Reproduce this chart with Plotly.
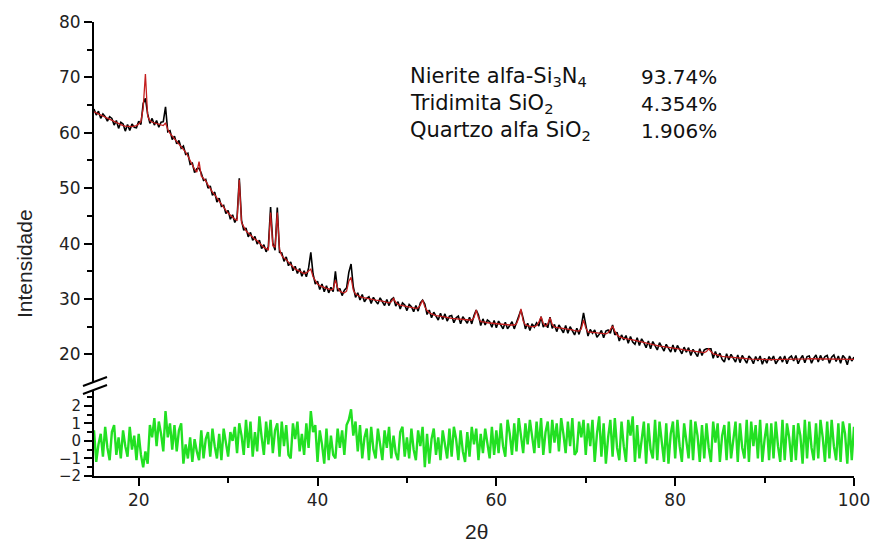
import numpy as np
import plotly.graph_objects as go

# ---------------- data ----------------
TWO_THETA_START = 15.0
TWO_THETA_STEP = 0.25

# observed intensity, 4 points per degree, rows = 15,16,...,99 then 100
OBS_ROWS = [
    [64.3, 63.2, 63.9, 62.6], [63.4, 62.9, 62.1, 62.9], [62.6, 61.4, 62.2, 60.8],
    [61.9, 61.6, 60.3, 61.5], [60.4, 61.6, 61.0, 60.9], [62.1, 61.5, 65.3, 66.2],
    [63.4, 61.7, 62.6, 61.4], [62.2, 61.0, 61.9, 62.0], [64.7, 60.2, 60.4, 58.8],
    [59.4, 58.0, 58.6, 57.2], [57.6, 56.1, 56.3, 54.3], [54.5, 52.8, 53.5, 53.6],
    [52.7, 51.4, 51.6, 50.0], [50.4, 48.7, 49.3, 47.5], [48.2, 46.7, 46.9, 45.4],
    [46.0, 44.4, 45.2, 43.8], [44.6, 51.8, 44.2, 42.4], [42.8, 41.2, 42.0, 40.6],
    [41.3, 39.9, 40.6, 39.1], [39.8, 38.5, 39.4, 46.6], [40.1, 38.8, 46.5, 38.4],
    [38.3, 36.8, 37.6, 36.0], [36.7, 35.1, 35.9, 34.6], [35.5, 34.1, 35.1, 34.0],
    [35.6, 38.4, 34.5, 32.7], [33.2, 31.7, 32.7, 31.3], [32.4, 31.1, 32.1, 31.3],
    [35.0, 31.4, 31.9, 30.6], [31.6, 32.0, 34.8, 36.3], [32.2, 30.3, 31.1, 29.8],
    [30.8, 29.5, 30.1, 30.4], [29.2, 30.3, 29.6, 29.1], [30.2, 29.4, 28.8, 29.9],
    [28.8, 29.9, 30.2, 28.7], [29.5, 28.2, 29.3, 28.9], [27.9, 29.0, 28.6, 27.7],
    [28.8, 27.8, 29.3, 29.8], [29.1, 27.2, 28.0, 26.6], [27.6, 26.9, 26.2, 27.4],
    [26.3, 27.3, 26.0, 26.9], [27.0, 25.7, 26.6, 26.9], [25.5, 26.8, 26.1, 25.6],
    [26.7, 25.5, 27.0, 28.0], [27.1, 25.2, 26.4, 25.3], [26.2, 25.9, 24.9, 26.1],
    [24.8, 26.0, 25.3, 24.6], [25.8, 24.6, 25.2, 25.9], [24.6, 25.8, 26.9, 28.0],
    [26.5, 24.6, 25.6, 24.3], [25.5, 24.9, 25.7, 25.1], [26.8, 24.9, 25.6, 24.8],
    [26.7, 24.7, 25.4, 24.1], [25.3, 24.6, 23.9, 25.2], [23.8, 25.0, 24.3, 23.5],
    [24.7, 23.6, 25.1, 27.5], [25.3, 23.3, 24.5, 23.8], [24.4, 23.1, 23.6, 24.3],
    [23.0, 24.2, 24.4, 23.8], [25.3, 23.5, 24.0, 22.4], [23.5, 22.6, 23.4, 22.0],
    [23.2, 22.2, 21.8, 23.0], [21.6, 22.8, 22.1, 21.2], [22.4, 21.0, 22.3, 21.5],
    [20.8, 22.1, 21.3, 20.6], [21.8, 21.0, 20.4, 21.7], [20.4, 21.6, 20.9, 20.1],
    [21.3, 20.4, 21.2, 19.8], [20.9, 20.3, 19.6, 21.0], [19.8, 20.8, 21.0, 21.0],
    [21.0, 19.3, 20.5, 19.4], [20.2, 19.1, 18.6, 20.1], [19.0, 20.0, 19.4, 18.6],
    [19.9, 18.5, 19.8, 19.0], [18.4, 19.7, 19.2, 18.3], [19.6, 18.8, 19.7, 18.2],
    [19.3, 18.4, 19.6, 18.9], [19.7, 18.3, 18.9, 19.6], [18.6, 19.7, 18.3, 19.4],
    [19.7, 18.8, 19.8, 18.3], [19.2, 19.8, 18.5, 19.6], [19.7, 18.4, 19.3, 19.9],
    [18.6, 19.8, 18.9, 19.6], [19.8, 18.4, 19.5, 19.9], [18.7, 19.7, 18.4, 19.8],
    [19.3, 18.1, 19.7, 18.8], [19.5],
]

# calculated (fitted) intensity
CALC_ROWS = [
    [63.8, 63.6, 63.4, 63.2], [63.0, 62.8, 62.6, 62.4], [62.2, 62.0, 61.8, 61.6],
    [61.4, 61.3, 61.2, 61.15], [61.1, 61.1, 61.2, 61.3], [61.6, 62.0, 64.5, 70.6],
    [63.0, 62.2, 61.9, 61.8], [61.6, 61.5, 61.4, 61.3], [61.8, 60.6, 59.9, 59.4],
    [58.9, 58.5, 58.0, 57.6], [57.1, 56.5, 55.8, 54.9], [54.0, 53.4, 52.9, 54.8],
    [52.2, 51.8, 51.3, 50.6], [49.9, 49.3, 48.8, 48.2], [47.7, 47.1, 46.6, 46.0],
    [45.5, 45.1, 44.7, 44.4], [44.2, 51.5, 43.8, 43.0], [42.3, 41.9, 41.5, 41.2],
    [40.8, 40.5, 40.1, 39.7], [39.3, 39.1, 38.9, 45.6], [39.6, 39.4, 45.6, 39.0],
    [37.8, 37.4, 37.1, 36.6], [36.2, 35.8, 35.4, 35.2], [35.0, 34.8, 34.6, 34.7],
    [35.0, 35.4, 34.0, 33.3], [32.7, 32.4, 32.2, 32.0], [31.9, 31.8, 31.6, 31.8],
    [33.4, 32.0, 31.4, 31.2], [31.1, 31.4, 33.2, 33.9], [31.6, 30.9, 30.6, 30.4],
    [30.3, 30.2, 30.1, 30.0], [29.9, 29.85, 29.8, 29.75], [29.7, 29.6, 29.5, 29.4],
    [29.3, 29.5, 30.1, 29.4], [29.0, 28.9, 28.8, 28.7], [28.6, 28.5, 28.45, 28.4],
    [28.3, 28.4, 28.9, 29.8], [28.6, 27.9, 27.5, 27.3], [27.1, 27.0, 26.95, 26.9],
    [26.8, 26.75, 26.7, 26.6], [26.5, 26.45, 26.4, 26.35], [26.3, 26.3, 26.25, 26.2],
    [26.2, 26.2, 26.6, 28.0], [26.6, 25.9, 25.9, 25.8], [25.7, 25.65, 25.6, 25.55],
    [25.5, 25.45, 25.4, 25.35], [25.3, 25.3, 25.3, 25.3], [25.3, 25.5, 26.5, 28.2],
    [26.0, 25.3, 25.1, 25.05], [25.0, 25.0, 25.2, 25.8], [26.8, 25.6, 25.1, 25.5],
    [26.6, 25.4, 24.9, 24.85], [24.8, 24.75, 24.7, 24.6], [24.5, 24.45, 24.4, 24.3],
    [24.2, 24.2, 24.6, 26.2], [24.8, 24.0, 24.0, 23.95], [23.9, 23.85, 23.8, 23.75],
    [23.7, 23.7, 23.9, 24.5], [25.1, 24.2, 23.5, 23.2], [23.0, 22.9, 22.85, 22.8],
    [22.7, 22.6, 22.5, 22.4], [22.3, 22.2, 22.1, 22.0], [21.9, 21.8, 21.75, 21.7],
    [21.6, 21.5, 21.45, 21.4], [21.3, 21.25, 21.2, 21.15], [21.1, 21.0, 20.95, 20.9],
    [20.8, 20.75, 20.7, 20.6], [20.5, 20.45, 20.4, 20.35], [20.3, 20.3, 20.5, 21.0],
    [20.5, 20.1, 20.0, 19.85], [19.7, 19.65, 19.6, 19.55], [19.5, 19.45, 19.4, 19.38],
    [19.35, 19.3, 19.25, 19.22], [19.2, 19.18, 19.15, 19.12], [19.1, 19.08, 19.07, 19.06],
    [19.05, 19.05, 19.05, 19.05], [19.05, 19.06, 19.07, 19.08], [19.1, 19.1, 19.1, 19.1],
    [19.1, 19.12, 19.13, 19.14], [19.15, 19.16, 19.17, 19.18], [19.2, 19.2, 19.2, 19.2],
    [19.2, 19.2, 19.2, 19.2], [19.2, 19.2, 19.2, 19.2], [19.2, 19.2, 19.2, 19.18],
    [19.15, 19.14, 19.13, 19.12], [19.1],
]

# residual (difference curve)
RESID_ROWS = [
    [0.6, -1.2, -0.2, 0.4], [-0.9, 0.8, -0.4, -1.1], [0.5, 0.9, -0.8, 0.2],
    [-1.0, 0.6, -0.3, -0.9], [0.8, -0.5, 0.3, -1.1], [0.4, -0.8, -1.5, -0.6],
    [-1.3, 0.9, 0.2, 1.3], [-0.3, 1.1, 0.4, -0.6], [1.7, 0.2, 1.0, -0.5],
    [0.9, -0.6, 0.6, 1.0], [-1.3, -0.2, -1.0, 0.2], [-1.2, 0.1, -0.6, -1.1],
    [0.6, -1.0, 0.1, 0.5], [-0.9, 0.7, -0.3, -1.0], [0.4, -1.1, 0.7, -0.2],
    [-0.9, 0.5, 0.0, 0.8], [-0.7, 1.0, 0.3, -0.8], [1.2, -0.4, 1.1, -0.9],
    [0.5, -0.6, 1.4, 0.2], [-0.8, 1.1, -0.2, 1.2], [-0.7, 0.6, 1.0, -0.9],
    [1.1, -0.3, 0.9, -0.8], [-1.0, 1.0, 0.1, 1.1], [-0.6, 0.4, -0.8, 1.0],
    [-0.4, 1.7, 0.5, 0.9], [-1.2, 0.6, -0.2, -1.3], [0.7, -1.1, 0.3, -0.8],
    [-1.0, 0.7, -0.4, 0.6], [-0.8, 0.9, 1.2, 1.8], [0.3, 1.1, -0.6, 0.9],
    [-1.0, 0.2, 0.7, -1.1], [0.8, -0.5, -1.0, 0.7], [-0.2, -1.1, 0.6, -0.4],
    [0.8, -1.0, 0.3, -0.7], [-1.1, 0.5, 0.8, -0.9], [0.2, -1.0, 0.7, -0.5],
    [-1.1, 0.6, -0.3, 0.8], [-1.5, 0.4, -1.3, 0.1], [0.7, -0.8, 0.2, -1.1],
    [0.6, -0.3, -1.0, 0.7], [-0.9, 0.8, 0.1, -1.1], [0.6, -0.6, -1.2, 0.5],
    [-0.9, 0.8, -0.2, 0.7], [-1.1, 0.4, -0.7, 0.7], [-0.3, -1.0, 0.8, -0.8],
    [0.6, -0.7, 1.0, -0.3], [-0.9, 1.2, 0.4, -0.8], [1.0, -0.6, 1.3, 0.1],
    [-0.7, 1.0, -0.2, 1.2], [0.3, -0.7, 1.1, -0.4], [1.3, -0.8, 0.5, 1.1],
    [-0.7, 1.2, -0.1, 1.0], [-0.6, 1.3, 0.4, -0.7], [1.1, -0.3, 1.3, -0.8],
    [-0.6, 1.1, 0.2, 1.2], [-0.8, 1.0, -0.3, 1.2], [-1.2, 0.4, 1.4, -0.9],
    [1.0, -1.3, 0.2, 1.2], [-0.9, 1.3, -0.4, -1.1], [1.1, -0.3, -1.2, 1.2],
    [0.3, 1.4, -1.2, 0.9], [-1.0, 0.2, 1.1, -1.3], [1.0, -0.5, -1.0, 1.2],
    [-1.1, 1.1, 0.1, -1.2], [1.0, -1.3, 0.4, 1.1], [-1.0, 1.2, -0.3, -1.2],
    [1.0, -0.2, -1.0, 1.2], [-1.1, 1.1, 0.3, -1.2], [0.9, -1.0, 1.0, -0.4],
    [-1.2, 1.1, -0.1, 1.0], [-1.2, 0.3, 0.9, -1.1], [1.1, -1.0, 0.2, 1.1],
    [-1.2, 1.0, -0.4, -1.0], [1.2, -1.2, 1.1, -0.3], [0.9, -1.0, 1.2, -1.2],
    [0.1, 1.0, -1.1, 1.0], [-1.0, 1.1, -0.3, -1.2], [1.2, -1.1, 1.0, 0.2],
    [-1.2, 0.9, -1.1, 1.0], [0.3, -1.3, 1.2, -1.0], [1.1, -0.4, -1.1, 1.0],
    [-1.0, 1.2, 0.2, -1.2], [1.1, -1.0, 1.2, -0.3], [-1.1, 1.0, -1.2, 1.1],
    [0.4, -1.3, 1.0, -1.1], [0.8],
]

PHASES = ["Nierite alfa-Si<sub>3</sub>N<sub>4</sub>",
          "Tridimita SiO<sub>2</sub>",
          "Quartzo alfa SiO<sub>2</sub>"]
PHASE_PCT = ["93.74%", "4.354%", "1.906%"]

X_TICKS = [20, 40, 60, 80, 100]
Y_TICKS = [20, 30, 40, 50, 60, 70, 80]
R_TICKS = [-2, -1, 0, 1, 2]

obs = [v for row in OBS_ROWS for v in row]
calc = [v for row in CALC_ROWS for v in row]
resid = [v for row in RESID_ROWS for v in row]
n = len(obs)
assert len(calc) == n and len(resid) == n, (len(obs), len(calc), len(resid))
two_theta = TWO_THETA_START + TWO_THETA_STEP * np.arange(n)

# ---------------- figure ----------------
FONT = "Liberation Sans, Arial, sans-serif"
WFONT = "DejaVu Sans, Liberation Sans, sans-serif"
W, H = 882, 544
ML, MR, MT, MB = 94, 21, 17, 68
ph = H - MT - MB

def py(pix):  # pixel row -> paper y
    return (H - MB - pix) / ph

def px(pix):  # pixel column -> paper x
    return (pix - ML) / (W - ML - MR)

fig = go.Figure()
fig.add_trace(go.Scatter(x=two_theta, y=obs, mode="lines",
                         line=dict(color="#000000", width=1.6), xaxis="x", yaxis="y",
                         showlegend=False))
fig.add_trace(go.Scatter(x=two_theta, y=calc, mode="lines",
                         line=dict(color="#c41e1e", width=1.3), xaxis="x", yaxis="y",
                         showlegend=False))
fig.add_trace(go.Scatter(x=two_theta, y=resid, mode="lines",
                         line=dict(color="#22e022", width=2.4), xaxis="x", yaxis="y2",
                         showlegend=False))

def axis_common(size):
    return dict(showline=True, linecolor="black", linewidth=2, ticks="outside",
                tickcolor="black", tickwidth=2, ticklen=8, showgrid=False,
                zeroline=False, tickfont=dict(family=WFONT, size=size, color="#222"))

def minor(vals):
    return dict(tickvals=vals, ticklen=5, tickwidth=2, tickcolor="black", ticks="outside")

upper_bottom = py(381)
lower_top = py(389)

fig.update_layout(
    width=W, height=H, margin=dict(l=ML, r=MR, t=MT, b=MB),
    plot_bgcolor="white", paper_bgcolor="white",
    xaxis=dict(domain=[0, 1], range=[15, 100], anchor="y2", tickvals=X_TICKS,
               minor=minor([30, 50, 70, 90]), **axis_common(17)),
    yaxis=dict(domain=[upper_bottom, 1], range=[15, 80], anchor="x", tickvals=Y_TICKS,
               minor=minor([25, 35, 45, 55, 65, 75]), **axis_common(17)),
    yaxis2=dict(domain=[0, lower_top], range=[-2, 2.9], anchor="x", tickvals=R_TICKS,
                minor=minor([-1.5, -0.5, 0.5, 1.5, 2.5]), **axis_common(15)),
)

# axis break marks
for y0, y1 in [(0, 9), (-8, 1)]:
    fig.add_shape(type="line", xref="paper", yref="paper",
                  xsizemode="pixel", ysizemode="pixel", xanchor=0, yanchor=py(385),
                  x0=-11, x1=13, y0=y0, y1=y1, line=dict(color="black", width=2))

# titles
fig.add_annotation(text="Intensidade", xref="paper", yref="paper",
                   x=px(24), y=py(261), xanchor="center", yanchor="middle",
                   textangle=-90, showarrow=False,
                   font=dict(family=FONT, size=21, color="#222"))
fig.add_annotation(text="2θ", xref="paper", yref="paper", x=px(480), y=py(532),
                   xanchor="center", yanchor="middle", showarrow=False,
                   font=dict(family=FONT, size=21, color="#222"))

# phase fractions
row_y = [73, 100, 127]
for name, pct, ry in zip(PHASES, PHASE_PCT, row_y):
    fig.add_annotation(text=name, xref="paper", yref="paper", x=px(411), y=py(ry),
                       xanchor="left", yanchor="middle", showarrow=False,
                       font=dict(family=WFONT, size=21, color="#111"))
    fig.add_annotation(text=pct, xref="paper", yref="paper", x=px(725), y=py(ry),
                       xanchor="right", yanchor="middle", showarrow=False,
                       font=dict(family=WFONT, size=20, color="#111"))

fig.write_html("out.html")
